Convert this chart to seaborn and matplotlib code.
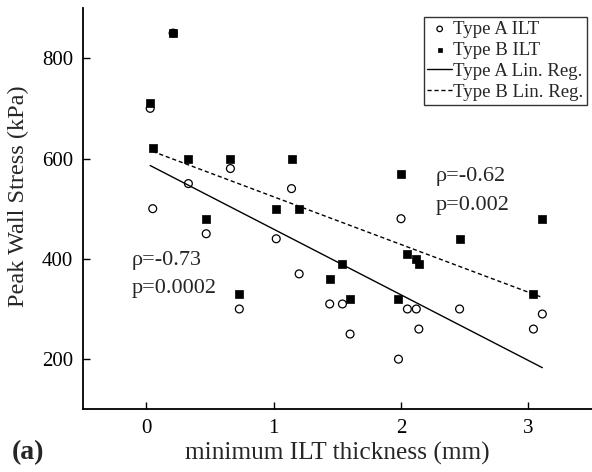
import matplotlib
matplotlib.use("Agg")
import matplotlib.pyplot as plt
import seaborn as sns
import pandas as pd

# Type A ILT points
a_x = [0.03, 0.05, 0.21, 0.33, 0.47, 0.66, 0.73, 1.02, 1.14, 1.20, 1.44, 1.54, 1.60,
       1.98, 2.00, 2.05, 2.12, 2.14, 2.46, 3.04, 3.11]
a_y = [700, 500, 850, 550, 450, 580, 300, 440, 540, 370, 310, 310, 250,
       200, 480, 300, 300, 260, 300, 260, 290]
# Type B ILT points
b_x = [0.03, 0.05, 0.21, 0.33, 0.47, 0.66, 0.73, 1.02, 1.14, 1.20, 1.44, 1.54, 1.60,
       1.98, 2.00, 2.05, 2.12, 2.14, 2.46, 3.04, 3.11]
b_y = [710, 620, 850, 600, 480, 600, 330, 500, 600, 500, 360, 390, 320,
       320, 570, 410, 400, 390, 440, 330, 480]
# regression line endpoints
rega_x = [0.03, 3.11]
rega_y = [586, 183]
regb_x = [0.05, 3.11]
regb_y = [614, 323]

x_ticks = [0, 1, 2, 3]
y_ticks = [200, 400, 600, 800]

sns.set_theme(style="ticks")
plt.rcParams['font.family'] = ['Liberation Serif', 'DejaVu Serif']

fig = plt.figure(figsize=(5.92, 4.72), dpi=100)
ax = fig.add_axes([0.1397, 0.1328, 0.8603, 0.8502])

dfa = pd.DataFrame({"x": a_x, "y": a_y})
dfb = pd.DataFrame({"x": b_x, "y": b_y})
sns.scatterplot(data=dfa, x="x", y="y", ax=ax, marker="o", s=32,
                facecolor="none", edgecolor="black", linewidth=0.9,
                label="Type A ILT", zorder=3)
sns.scatterplot(data=dfb, x="x", y="y", ax=ax, marker="s", s=26,
                color="black", edgecolor="black", linewidth=0.5,
                label="Type B ILT", zorder=3)
sns.lineplot(x=rega_x, y=rega_y, ax=ax, color="black", linewidth=1.0,
             label="Type A Lin. Reg.")
sns.lineplot(x=regb_x, y=regb_y, ax=ax, color="black", linewidth=1.0,
             linestyle=(0, (3, 2)), label="Type B Lin. Reg.")

ax.set_xlim(-0.5, 3.5)
ax.set_ylim(100, 900)
ax.set_xticks(x_ticks)
ax.set_yticks(y_ticks)
ax.tick_params(direction="in", length=5, width=1, labelsize=15, colors="black")
ax.tick_params(axis="y", pad=7)
ax.tick_params(axis="x", pad=7)
for s in ["top", "right"]:
    ax.spines[s].set_visible(False)
for s in ["left", "bottom"]:
    ax.spines[s].set_linewidth(1.3)
    ax.spines[s].set_color("black")

ax.set_xlabel("minimum ILT thickness (mm)", fontsize=18.3, labelpad=3)
ax.set_ylabel("Peak Wall Stress (kPa)", fontsize=17.5, labelpad=7)
ax.yaxis.set_label_coords(-0.105, 0.53)

ax.text(2.27, 556, "ρ=-0.62", fontsize=16, va="baseline", ha="left")
ax.text(2.27, 498, "p=0.002", fontsize=16, va="baseline", ha="left")
ax.text(-0.115, 388, "ρ=-0.73", fontsize=16, va="baseline", ha="left")
ax.text(-0.115, 332, "p=0.0002", fontsize=16, va="baseline", ha="left")

fig.text(0.02, 0.042, "(a)", fontsize=20, fontweight="bold", ha="left", va="center")

leg = ax.legend(loc="upper right", bbox_to_anchor=(0.99, 0.978), fontsize=13.6,
                frameon=True, fancybox=False, edgecolor="black",
                handlelength=1.3, handletextpad=0.05, labelspacing=0.2,
                borderpad=0.2, borderaxespad=0.0, markerscale=0.7)
leg.get_frame().set_linewidth(1.0)

fig.savefig("out.png", dpi=100)
